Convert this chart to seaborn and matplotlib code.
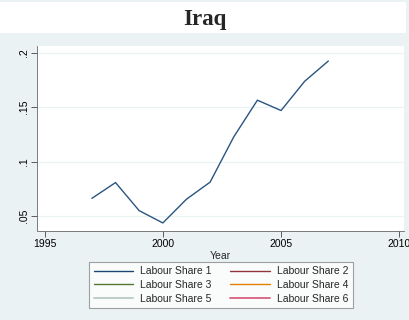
import matplotlib
matplotlib.use("Agg")
import matplotlib.pyplot as plt
import seaborn as sns
import pandas as pd
from matplotlib.lines import Line2D
from matplotlib.patches import Rectangle

# Data (Iraq, Labour Share 1 only)
years = [1997, 1998, 1999, 2000, 2001, 2002, 2003, 2004, 2005, 2006, 2007]
share1 = [0.0662, 0.0807, 0.0549, 0.0436, 0.0654, 0.0811, 0.1227, 0.1564, 0.1469, 0.1738, 0.1924]

series_names = ["Labour Share 1", "Labour Share 2", "Labour Share 3",
                "Labour Share 4", "Labour Share 5", "Labour Share 6"]
series_colors = ["#1A476F", "#90353B", "#55752F", "#E37E00", "#B8CAC4", "#D9607E"]

x_ticks = [1995, 2000, 2005, 2010]
y_ticks = [0.05, 0.10, 0.15, 0.20]
y_labels = [".05", ".1", ".15", ".2"]

bg = "#EAF2F3"

sns.set_theme(style="white")
plt.rcParams["font.family"] = ["Liberation Sans", "DejaVu Sans"]

df = pd.DataFrame({"Year": years, "Share": share1})

fig = plt.figure(figsize=(4.1, 3.2), dpi=100)
fig.patch.set_facecolor(bg)
# white title band
fig.patches.append(Rectangle((0, 1 - 33 / 320), 406 / 410, 31 / 320,
                             transform=fig.transFigure, facecolor="white",
                             edgecolor="none", zorder=0))
fig.text(0.5, 1 - 19 / 320, "Iraq", ha="center", va="center",
         fontsize=16.5, fontweight="bold", family="Liberation Serif")

ax = fig.add_axes([37.5 / 410, 1 - 231 / 320, (404 - 37.5) / 410, (231 - 46) / 320])
ax.set_facecolor("white")

sns.lineplot(data=df, x="Year", y="Share", ax=ax, color="#2A5580",
             linewidth=1.0, legend=False)

ax.set_xlim(1994.70, 2010.2)
ax.set_ylim(0.0362, 0.2062)
ax.set_xticks(x_ticks)
ax.set_xticklabels([str(t) for t in x_ticks], fontsize=7.5)
ax.set_yticks(y_ticks)
ax.set_yticklabels(y_labels, fontsize=7.5, rotation=90, va="center")
ax.tick_params(axis="both", direction="out", length=4, width=0.6,
               colors="#444444", labelcolor="black", pad=2)
ax.tick_params(axis="both", which="both", bottom=True, left=True)
ax.grid(axis="y", color="#EAF2F3", linewidth=0.9)
ax.set_axisbelow(True)
for side in ["top", "right"]:
    ax.spines[side].set_visible(False)
for side in ["left", "bottom"]:
    ax.spines[side].set_color("#666666")
    ax.spines[side].set_linewidth(0.6)

ax.set_xlabel("Year", fontsize=7.5, labelpad=1)
ax.set_ylabel("")

# legend filled row-wise like the original: 1 2 / 3 4 / 5 6
order = [0, 2, 4, 1, 3, 5]
handles = [Line2D([], [], color=series_colors[i], linewidth=1.3 if i >= 4 else 1.0)
           for i in order]
labels = [series_names[i] for i in order]
leg = fig.legend(handles, labels, ncol=2, loc="center",
                 bbox_to_anchor=(221 / 410, 1 - 285 / 320), fontsize=7.5,
                 frameon=True, fancybox=False, handlelength=3.8,
                 handletextpad=0.65, columnspacing=1.8, labelspacing=0.35,
                 borderpad=0.45, borderaxespad=0)
leg.get_frame().set_edgecolor("#888888")
leg.get_frame().set_linewidth(0.8)
leg.get_frame().set_facecolor("white")

fig.savefig("out.png", dpi=100, facecolor=bg)
